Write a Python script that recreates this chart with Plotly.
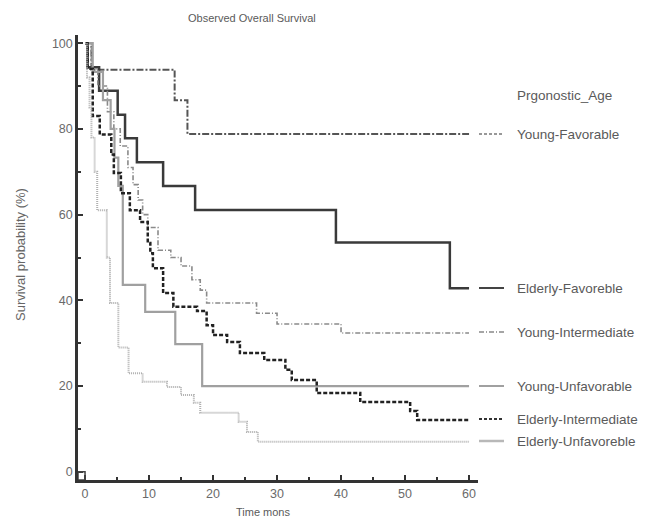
import plotly.graph_objects as go

# ---- data ----
yf_t = [0, 1.0, 14.0, 16.0, 60]
yf_s = [100, 93.8, 86.7, 78.8, 78.8]

ef_t = [0, 0.4, 2.2, 5.1, 6.25, 8.1, 12.2, 17.2, 39.2, 57.0, 60]
ef_s = [100, 94.4, 88.9, 83.3, 77.8, 72.2, 66.7, 61.1, 53.5, 42.8, 42.8]

yi_t = [0, 1.0, 2.0, 3.5, 4.5, 5.5, 6.7, 7.5, 8.3, 9.0, 9.8, 11.4, 13.4, 15.0,
        16.7, 18.0, 19.0, 26.8, 30.0, 40.0, 60]
yi_s = [100, 94.0, 90.0, 84.0, 80.0, 76.0, 71.0, 67.0, 63.4, 60.0, 57.0, 51.7,
        50.0, 48.0, 44.8, 42.4, 39.4, 37.0, 34.5, 32.4, 32.4]

yu_t = [0, 1.2, 2.8, 4.0, 4.6, 5.2, 5.9, 9.4, 14.1, 18.3, 60]
yu_s = [100, 93.3, 86.7, 80.0, 73.3, 66.7, 43.6, 37.3, 29.8, 20.0, 20.0]

ei_t = [0, 0.4, 1.2, 2.3, 4.1, 4.5, 5.6, 7.0, 8.6, 9.8, 10.2, 10.6, 12.2, 13.8,
        17.5, 19.0, 20.0, 22.2, 24.2, 28.0, 31.3, 32.3, 36.2, 43.0, 50.8, 51.9, 60]
ei_s = [100, 94.0, 83.0, 78.7, 74.0, 69.7, 65.0, 61.0, 58.3, 53.4, 51.0, 47.5,
        41.7, 38.5, 37.5, 34.2, 31.9, 30.3, 27.7, 26.1, 23.8, 21.4, 18.4, 16.3,
        14.2, 12.1, 12.1]

eu_t = [0, 0.3, 0.7, 1.0, 1.5, 1.9, 3.4, 3.9, 5.2, 6.8, 9.0, 12.8, 15.0, 17.0,
        18.0, 24.0, 25.3, 27.0, 60]
eu_s = [100, 92.0, 85.0, 78.0, 70.0, 61.0, 50.0, 39.4, 29.0, 23.0, 21.0, 19.8,
        17.9, 16.1, 13.8, 11.7, 9.3, 7.0, 7.0]

groups = ["Young-Favorable", "Elderly-Favoreble", "Young-Intermediate",
          "Young-Unfavorable", "Elderly-Intermediate", "Elderly-Unfavoreble"]
legend_title = "Prgonostic_Age"
title = "Observed Overall Survival"
x_title = "Time mons"
y_title = "Survival probability (%)"
x_ticks = [0, 10, 20, 30, 40, 50, 60]
y_ticks = [0, 20, 40, 60, 80, 100]

series = [(yf_t, yf_s), (ef_t, ef_s), (yi_t, yi_s), (yu_t, yu_s), (ei_t, ei_s), (eu_t, eu_s)]
styles = [
    dict(color="#555555", width=2, dash="7px,2px,2px,2px"),
    dict(color="#3a3a3a", width=2.5, dash="solid"),
    dict(color="#8a8a8a", width=1.6, dash="5px,2px,1px,2px"),
    dict(color="#a0a0a0", width=2.2, dash="solid"),
    dict(color="#222222", width=2.5, dash="4px,2px"),
    dict(color="#b0b0b0", width=2, dash="1px,1px"),
]
legend_styles = [
    dict(color="#777777", width=1.5, dash="3px,2px"),
    dict(color="#444444", width=2, dash="solid"),
    dict(color="#888888", width=1.5, dash="5px,2px,1px,2px"),
    dict(color="#a0a0a0", width=2, dash="solid"),
    dict(color="#333333", width=2, dash="3px,2px"),
    dict(color="#b8b8b8", width=2.5, dash="solid"),
]
label_y_px = [134, 288, 332, 386, 419, 441]

W, H = 651, 520
OFF = 8  # page body margin
# plot area in screenshot pixels: x 78..478, y 35..480
L = 78 - OFF
T = 35 - OFF
R = W - (478 - OFF)
B = H - (480 - OFF)

fig = go.Figure()
for (t, s), st, name in zip(series, styles, groups):
    fig.add_trace(go.Scatter(x=t, y=s, mode="lines", line_shape="hv",
                             line=st, name=name, showlegend=False, hoverinfo="skip"))

font = "Liberation Sans, Arial, sans-serif"
pw = W - L - R
ph = H - T - B

def px2paper(xp, yp):
    # screenshot pixel -> paper coords
    return (xp - OFF - L) / pw, 1 - (yp - OFF - T) / ph

annotations = []
shapes = []
for name, st, yp in zip(groups, legend_styles, label_y_px):
    x0, y0 = px2paper(479, yp)
    x1, _ = px2paper(504, yp)
    shapes.append(dict(type="line", xref="paper", yref="paper", x0=x0, x1=x1, y0=y0, y1=y0,
                       line=st))
    xt, _ = px2paper(515, yp)
    annotations.append(dict(text=name, xref="paper", yref="paper", x=xt, y=y0,
                            xanchor="left", yanchor="middle", showarrow=False,
                            font=dict(family=font, size=13.5, color="#5a5a5a")))
xt, yt = px2paper(515, 95)
annotations.append(dict(text=legend_title, xref="paper", yref="paper", x=xt, y=yt,
                        xanchor="left", yanchor="middle", showarrow=False,
                        font=dict(family=font, size=13.5, color="#5a5a5a")))
xt, yt = px2paper(252, 18)
annotations.append(dict(text=title, xref="paper", yref="paper", x=xt, y=yt,
                        xanchor="center", yanchor="middle", showarrow=False,
                        font=dict(family=font, size=11, color="#5a5a5a")))
xt, yt = px2paper(263, 512)
annotations.append(dict(text=x_title, xref="paper", yref="paper", x=xt, y=yt,
                        xanchor="center", yanchor="middle", showarrow=False,
                        font=dict(family=font, size=11, color="#5a5a5a")))
xt, yt = px2paper(20, 255)
annotations.append(dict(text=y_title, xref="paper", yref="paper", x=xt, y=yt,
                        xanchor="center", yanchor="middle", showarrow=False, textangle=-90,
                        font=dict(family=font, size=13, color="#666666")))

# small square at the axis corner
shapes.append(dict(type="rect", xref="x", yref="y", x0=-1.1, x1=0, y0=-1.9, y1=0,
                   line=dict(color="#444444", width=1.5)))

fig.update_layout(
    width=W, height=H,
    margin=dict(l=L, r=R, t=T, b=B, autoexpand=False),
    paper_bgcolor="white", plot_bgcolor="white",
    font=dict(family=font, size=11, color="#555555"),
    annotations=annotations, shapes=shapes,
    showlegend=False,
)
fig.update_xaxes(range=[-1.1, 61.4], tickvals=x_ticks, ticks="inside", ticklen=5, tickwidth=2,
                 tickcolor="#333333", showline=True, linecolor="#333333", linewidth=2.5,
                 showgrid=False, zeroline=False, tickfont=dict(size=12.5, color="#6a6a6a"),
                 automargin=False,
                 minor=dict(tickvals=[5, 15, 25, 35, 45, 55], ticks="inside", ticklen=3,
                            tickcolor="#333333", tickwidth=1.5))
fig.update_yaxes(range=[-1.9, 101.9], tickvals=y_ticks, ticks="inside", ticklen=5, tickwidth=2,
                 tickcolor="#333333", showline=True, linecolor="#333333", linewidth=2.5,
                 showgrid=False, zeroline=False, tickfont=dict(size=12.5, color="#6a6a6a"),
                 automargin=False,
                 minor=dict(tickvals=[10, 30, 50, 70, 90], ticks="inside", ticklen=3,
                            tickcolor="#333333", tickwidth=1.5))

fig.write_html("out.html")
